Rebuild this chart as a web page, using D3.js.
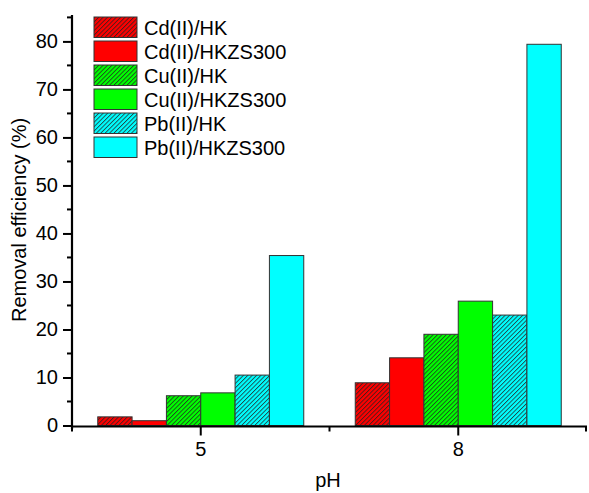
<!DOCTYPE html>
<html><head><meta charset="utf-8">
<script src="https://cdn.jsdelivr.net/npm/d3@7/dist/d3.min.js"></script>
<style>body{margin:0;background:#fff}text{font-family:Arial,"Liberation Sans",sans-serif}</style>
</head><body>
<svg id="c" width="589" height="493"></svg>
<script>
const categories = ["5", "8"];
const seriesNames = ["Cd(II)/HK", "Cd(II)/HKZS300", "Cu(II)/HK", "Cu(II)/HKZS300", "Pb(II)/HK", "Pb(II)/HKZS300"];
const seriesColors = ["#ff0000", "#ff0000", "#00ff00", "#00ff00", "#00ffff", "#00ffff"];
const seriesHatched = [true, false, true, false, true, false];
const values_pH5 = [1.8, 1.0, 6.2, 6.8, 10.5, 35.4];
const values_pH8 = [8.9, 14.1, 19.0, 25.9, 23.0, 79.4];
const yTicks = [0, 10, 20, 30, 40, 50, 60, 70, 80];
const valuesByCat = {"5": values_pH5, "8": values_pH8};

const svg = d3.select("#c");
const x0 = d3.scaleBand().domain(categories).range([72, 587]).padding(0);
const x1 = d3.scaleBand().domain(seriesNames).range([0, x0.bandwidth()*0.8]);
const y = d3.scaleLinear().domain([0, 85.5]).range([425.5, 15]);

const defs = svg.append("defs");
seriesNames.forEach((s, i) => {
  const w = 3.1;
  const p = defs.append("pattern").attr("id", "h" + i).attr("patternUnits", "userSpaceOnUse")
    .attr("width", w).attr("height", w).attr("patternTransform", "rotate(45)");
  p.append("rect").attr("width", w).attr("height", w).attr("fill", seriesColors[i]);
  p.append("line").attr("x1", 0.5).attr("y1", 0).attr("x2", 0.5).attr("y2", w)
    .attr("stroke", "#222").attr("stroke-width", 0.75);
});
const fillFor = i => seriesHatched[i] ? "url(#h" + i + ")" : seriesColors[i];

// bars
categories.forEach(c => {
  const off = x0(c) + x0.bandwidth()*0.1;
  svg.append("g").selectAll("rect").data(valuesByCat[c]).join("rect")
    .attr("x", (d, i) => off + x1(seriesNames[i]))
    .attr("y", d => y(d))
    .attr("width", x1.bandwidth())
    .attr("height", d => y(0) - y(d))
    .attr("fill", (d, i) => fillFor(i))
    .attr("stroke", "#333").attr("stroke-width", 1);
});

// y axis
const yAxis = svg.append("g").attr("transform", "translate(72,0)");
yAxis.call(d3.axisLeft(y).tickValues(yTicks).tickSize(9).tickPadding(5).tickFormat(d3.format("d")));
yAxis.select(".domain").remove();
yAxis.selectAll(".tick line").attr("stroke", "#000").attr("stroke-width", 2);
yAxis.selectAll("text").attr("font-size", 20).attr("fill", "#000");
yAxis.append("g").selectAll("line").data(d3.range(5, 86, 10)).join("line")
  .attr("x1", -5).attr("x2", 0).attr("y1", d => y(d)).attr("y2", d => y(d))
  .attr("stroke", "#000").attr("stroke-width", 2);
yAxis.append("line").attr("x1", 0).attr("x2", 0).attr("y1", 15).attr("y2", 429)
  .attr("stroke", "#000").attr("stroke-width", 2.2);

// x axis
const xAxis = svg.append("g").attr("transform", "translate(0,426.5)");
xAxis.call(d3.axisBottom(x0).tickSize(9).tickPadding(6).tickSizeOuter(0));
xAxis.select(".domain").remove();
xAxis.selectAll(".tick line").attr("stroke", "#000").attr("stroke-width", 2);
xAxis.selectAll("text").attr("font-size", 20).attr("fill", "#000");
const bounds = [72, 72 + x0.bandwidth(), 587];
xAxis.append("g").selectAll("line").data(bounds).join("line")
  .attr("x1", d => Math.min(d, 586)).attr("x2", d => Math.min(d, 586)).attr("y1", 0).attr("y2", 5)
  .attr("stroke", "#000").attr("stroke-width", 2);
xAxis.append("line").attr("x1", 71).attr("x2", 587).attr("y1", 0).attr("y2", 0)
  .attr("stroke", "#000").attr("stroke-width", 2.2);

// titles
svg.append("text").attr("x", 328).attr("y", 487).attr("text-anchor", "middle")
  .attr("font-size", 20).text("pH");
svg.append("text").attr("transform", "translate(26,220) rotate(-90)").attr("text-anchor", "middle")
  .attr("font-size", 20).text("Removal efficiency (%)");

// legend
const lg = svg.append("g").attr("transform", "translate(94,17)");
const items = lg.selectAll("g").data(seriesNames).join("g")
  .attr("transform", (d, i) => `translate(0,${i*24})`);
items.append("rect").attr("width", 43).attr("height", 20.5)
  .attr("fill", (d, i) => fillFor(i)).attr("stroke", "#333").attr("stroke-width", 1);
items.append("text").attr("x", 50).attr("y", 17.5).attr("font-size", 20).text(d => d);
</script>
</body></html>
